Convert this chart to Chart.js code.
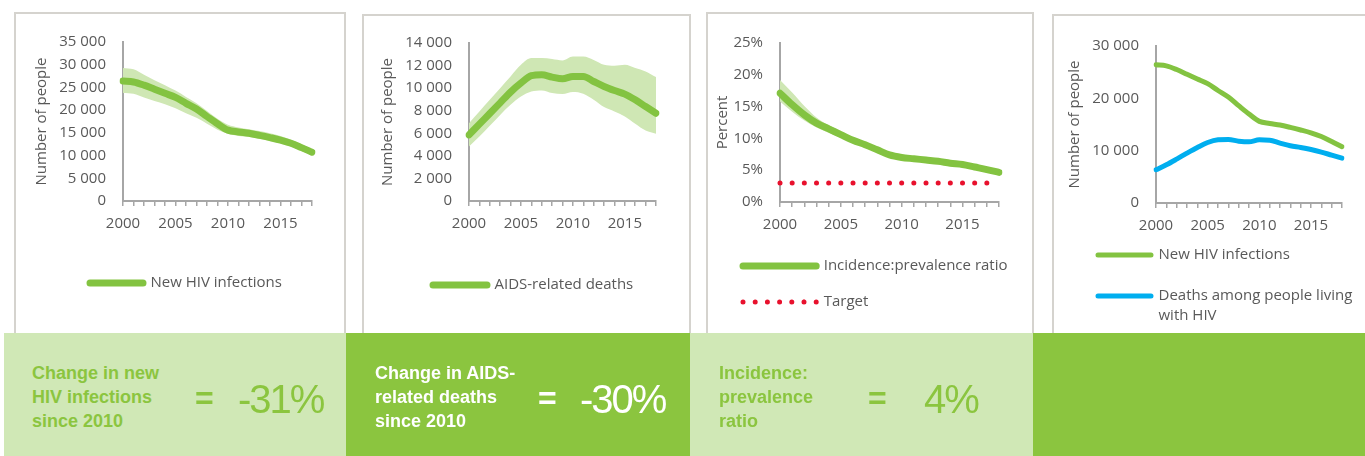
<!DOCTYPE html>
<html lang="en">
<head>
  <meta charset="UTF-8">
  <title>HIV estimates</title>
  <script src="https://cdn.jsdelivr.net/npm/chart.js"></script>
  <style>
    body {
      margin: 0;
      padding: 0;
      background: #fff;
      overflow: hidden;
    }

    #page {
      position: relative;
      width: 1365px;
      height: 456px;
      overflow: hidden;
    }

    .box {
      position: absolute;
      box-sizing: border-box;
      border: 2px solid #d5d3ce;
      background: #fff;
    }

    .wrap {
      position: absolute;
    }

    .panel {
      position: absolute;
      top: 333px;
      height: 123px;
    }

    .light { background: #d0e8b6; color: #8bc53f; }
    .dark { background: #8bc53f; color: #fff; }

    .txt {
      position: absolute;
      font-family: 'Liberation Sans', Arial, sans-serif;
      white-space: nowrap;
    }

    .lbl { font-weight: bold; font-size: 18px; line-height: 24px; top: 361px; }
    .eq { font-weight: bold; font-size: 32px; line-height: 32px; top: 382px; }
    .val { font-size: 40px; line-height: 40px; letter-spacing: -2px; top: 379px; }
    .g { color: #8bc53f; }
    .w { color: #fff; }
  </style>
</head>
<body>
  <div id="page">
    <div class="box" style="left:14px; top:12px; width:332px; height:340px;"></div>
    <div class="box" style="left:362px; top:14px; width:329px; height:340px;"></div>
    <div class="box" style="left:706px; top:12px; width:328px; height:340px;"></div>
    <div class="box" style="left:1052px; top:14px; width:340px; height:340px;"></div>

    <div class="wrap" style="left:16px; top:14px; width:328px; height:316px;"><canvas id="c1"></canvas></div>
    <div class="wrap" style="left:364px; top:16px; width:325px; height:316px;"><canvas id="c2"></canvas></div>
    <div class="wrap" style="left:708px; top:14px; width:324px; height:318px;"><canvas id="c3"></canvas></div>
    <div class="wrap" style="left:1054px; top:16px; width:311px; height:340px;"><canvas id="c4"></canvas></div>

    <div class="panel light" style="left:4px; width:342px;"></div>
    <div class="panel dark" style="left:346px; width:344px;"></div>
    <div class="panel light" style="left:690px; width:343px;"></div>
    <div class="panel dark" style="left:1033px; width:332px;"></div>

    <div class="txt lbl g" style="left:32px;">Change in new<br>HIV infections<br>since 2010</div>
    <div class="txt eq g" style="left:195px;">=</div>
    <div class="txt val g" style="left:238px;">-31%</div>

    <div class="txt lbl w" style="left:375px;">Change in AIDS-<br>related deaths<br>since 2010</div>
    <div class="txt eq w" style="left:538px;">=</div>
    <div class="txt val w" style="left:580px;">-30%</div>

    <div class="txt lbl g" style="left:719px;">Incidence:<br>prevalence<br>ratio</div>
    <div class="txt eq g" style="left:868px;">=</div>
    <div class="txt val g" style="left:924px;">4%</div>
  </div>

  <script>
    const years = ['2000', '2001', '2002', '2003', '2004', '2005', '2006', '2007', '2008', '2009',
                   '2010', '2011', '2012', '2013', '2014', '2015', '2016', '2017', '2018'];

    // new HIV infections (estimate + bounds)
    const newInfections = [26400, 26200, 25500, 24600, 23700, 22800, 21500, 20250, 18600, 17000,
                           15600, 15200, 14900, 14450, 13950, 13400, 12700, 11750, 10750];
    const newInfLow = [23800, 23600, 22800, 22000, 21300, 20400, 19300, 18300, 17000, 15700,
                       14800, 14300, 14100, 13700, 13200, 12700, 12000, 11000, 10000];
    const newInfHigh = [29300, 29000, 27800, 26600, 25500, 24300, 22900, 21500, 19800, 18100,
                        16800, 16200, 15800, 15400, 14900, 14300, 13500, 12500, 11400];

    // AIDS-related deaths
    const aidsDeaths = [5860, 6810, 7750, 8700, 9650, 10450, 11100, 11190, 10980, 10830,
                        11040, 11040, 10590, 10150, 9790, 9470, 8970, 8370, 7780];
    const aidsLow = [4820, 5710, 6660, 7630, 8520, 9260, 9700, 9790, 9560, 9470,
                     9650, 9500, 8970, 8320, 7930, 7480, 6840, 6240, 5950];
    const aidsHigh = [6900, 7930, 8970, 10000, 11040, 12070, 12670, 12670, 12580, 12460,
                      12810, 12810, 12500, 12070, 11990, 12070, 11780, 11480, 10980];

    // incidence:prevalence ratio (%)
    const incPrev = [17.1, 15.3, 13.7, 12.4, 11.5, 10.6, 9.7, 9.0, 8.2, 7.4,
                     7.0, 6.8, 6.6, 6.4, 6.1, 5.9, 5.5, 5.1, 4.65];
    const incPrevLow = [15.8, 14.2, 12.8, 11.7, 10.9, 10.1, 9.3, 8.6, 7.9, 7.1,
                        6.8, 6.6, 6.45, 6.25, 6.0, 5.8, 5.4, 5.0, 4.55];
    const incPrevHigh = [19.2, 17.2, 15.1, 13.3, 12.1, 11.1, 10.1, 9.3, 8.5, 7.7,
                         7.2, 6.95, 6.75, 6.5, 6.2, 6.0, 5.6, 5.2, 4.75];
    const target = [3, 3, 3, 3, 3, 3, 3, 3, 3, 3, 3, 3, 3, 3, 3, 3, 3, 3, null];

    // deaths among people living with HIV
    const plhivDeaths = [6350, 7300, 8390, 9530, 10610, 11560, 12070, 12130, 11820, 11690,
                         12070, 12010, 11440, 10930, 10610, 10220, 9730, 9150, 8580];

    const green = '#83c341';
    const band = '#cfe7b4';
    const blue = '#00aeef';
    const red = '#e8112d';
    const axisGray = '#a6a6a6';
    const textGray = '#595959';

    Chart.defaults.font.family = "'Open Sans', sans-serif";
    Chart.defaults.color = textGray;
    Chart.defaults.animation = false;

    function spaced(v) {
      return String(v).replace(/\B(?=(\d{3})+(?!\d))/g, ' ');
    }

    // uncertainty band, drawn under the estimate line (order 1)
    function bandSets(low, high) {
      return [
        { data: low, order: 1, borderWidth: 0, pointRadius: 0, fill: false, cubicInterpolationMode: 'monotone' },
        { data: high, order: 1, borderWidth: 0, pointRadius: 0, fill: '-1', backgroundColor: band, cubicInterpolationMode: 'monotone' }
      ];
    }

    function lineSet(label, data, color, width) {
      return {
        label: label,
        data: data,
        order: 0,
        borderColor: color,
        backgroundColor: color,
        borderWidth: width,
        pointRadius: 0,
        fill: false,
        borderCapStyle: 'round',
        borderJoinStyle: 'round',
        cubicInterpolationMode: 'monotone'
      };
    }

    // s = per chart layout settings
    function makeChart(id, datasets, s) {
      const scales = {
        x: {
          grid: {
            drawOnChartArea: false,
            tickLength: 5,
            color: axisGray,
            lineWidth: 1.5
          },
          border: { color: axisGray, width: 2 },
          ticks: {
            autoSkip: false,
            maxRotation: 0,
            padding: 9,
            font: { size: 15 },
            callback: function(v, i) {
              return Number(years[i]) % 5 === 0 ? years[i] : '';
            }
          },
          afterFit: function(scale) { scale.height = s.xH; }
        },
        y: {
          min: 0,
          max: s.max,
          grid: { display: false, drawTicks: false },
          border: { color: axisGray, width: 2 },
          ticks: {
            stepSize: s.step,
            padding: 17,
            font: { size: 15 },
            callback: s.fmt
          },
          title: {
            display: true,
            text: s.title,
            color: textGray,
            font: { size: 15 },
            padding: { top: s.titlePad, bottom: 0 }
          },
          afterFit: function(scale) { scale.width = s.yW; }
        }
      };
      if (s.rightW) {
        // empty right axis: keeps the plot narrow without narrowing the legend
        scales.yr = {
          type: 'linear',
          position: 'right',
          grid: { display: false, drawTicks: false },
          border: { display: false },
          ticks: { display: false },
          afterFit: function(scale) { scale.width = s.rightW; }
        };
      }

      return new Chart(document.getElementById(id), {
        type: 'line',
        data: { labels: years, datasets: datasets },
        options: {
          responsive: true,
          maintainAspectRatio: false,
          layout: { padding: s.pad },
          plugins: {
            tooltip: { enabled: false },
            legend: {
              position: 'bottom',
              align: 'start',
              // empty title only used as a vertical offset for the rows
              title: {
                display: true,
                text: '',
                font: { size: 0, lineHeight: 0 },
                padding: { top: s.legendShift, bottom: 0 }
              },
              labels: {
                boxWidth: s.boxWidth,
                boxHeight: 0,
                padding: s.legendPad,
                color: textGray,
                font: { size: 15, lineHeight: 1.333 },
                filter: item => !!item.text
              }
            }
          },
          scales: scales
        }
      });
    }

    makeChart('c1', bandSets(newInfLow, newInfHigh).concat([lineSet('New HIV infections', newInfections, green, 7)]), {
      pad: { top: 28, left: 17, right: 32, bottom: 29.5 },
      yW: 90, xH: 36, legendPad: 57, legendShift: -18.5, boxWidth: 53, titlePad: 0,
      max: 35000, step: 5000, fmt: spaced, title: 'Number of people'
    });

    makeChart('c2', bandSets(aidsLow, aidsHigh).concat([lineSet('AIDS-related deaths', aidsDeaths, green, 7)]), {
      pad: { top: 27, left: 16, right: 33, bottom: 29.5 },
      yW: 89, xH: 36, legendPad: 53, legendShift: -12.5, boxWidth: 54, titlePad: -1,
      max: 14000, step: 2000, fmt: spaced, title: 'Number of people'
    });

    makeChart('c3', bandSets(incPrevLow, incPrevHigh).concat([
      lineSet('Incidence:prevalence ratio', incPrev, green, 7),
      {
        label: 'Target',
        data: target,
        order: 0,
        showLine: false,
        pointRadius: 2.5,
        pointBorderWidth: 0,
        pointBackgroundColor: red,
        borderColor: red,
        backgroundColor: red,
        borderWidth: 5,
        borderDash: [0, 12.2],
        borderCapStyle: 'round',
        borderJoinStyle: 'round'
      }
    ]), {
      pad: { top: 29, left: 14, right: 0, bottom: 12.5 },
      rightW: 33,
      yW: 58, xH: 35.5, legendPad: 21, legendShift: 0, boxWidth: 73.2, titlePad: -8,
      max: 25, step: 5, fmt: v => v + '%', title: 'Percent'
    });

    makeChart('c4', [
      lineSet('New HIV infections', newInfections, green, 5),
      lineSet(['Deaths among people living', 'with HIV'], plhivDeaths, blue, 5),
      // blank legend row so the second text line is not cut off
      { label: ' ', data: [], borderWidth: 0, pointRadius: 0 }
    ], {
      pad: { top: 30, left: 18, right: 0, bottom: 1.5 },
      rightW: 23,
      yW: 84, xH: 36, legendPad: 26, legendShift: -17.5, boxWidth: 53, titlePad: -6,
      max: 30000, step: 10000, fmt: spaced, title: 'Number of people'
    });
  </script>
</body>
</html>
